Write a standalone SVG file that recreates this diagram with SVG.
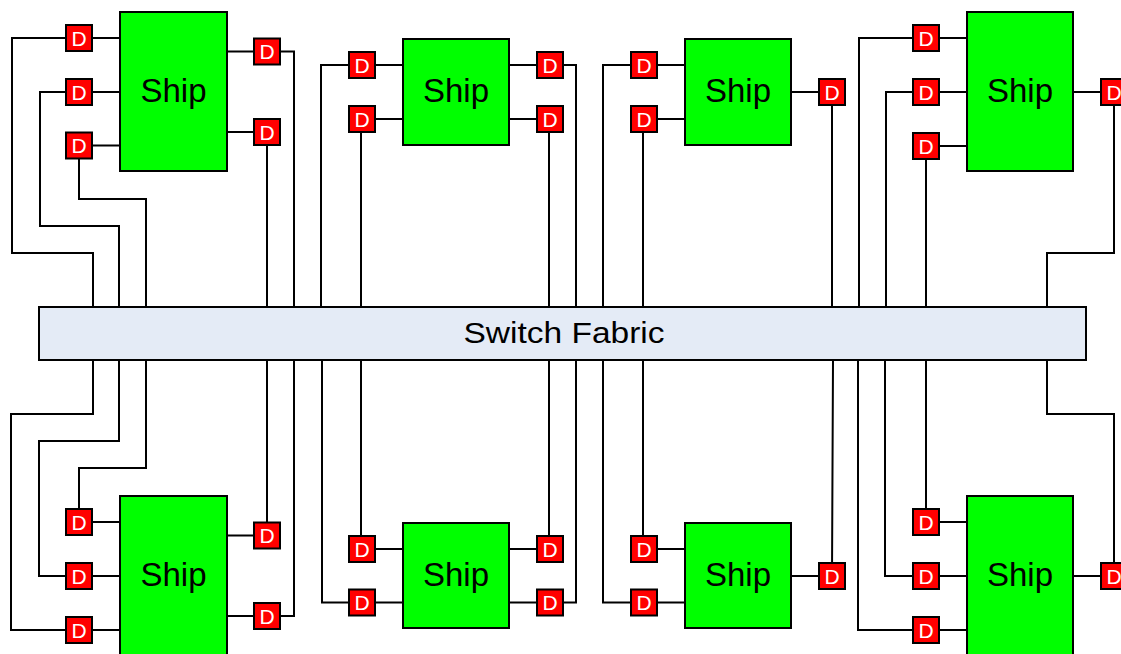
<svg xmlns="http://www.w3.org/2000/svg" width="1121" height="654" viewBox="0 0 1121 654">
<style>
.ship{fill:#00ff00;stroke:#000;stroke-width:2}
.d{fill:#ff0000;stroke:#000;stroke-width:2}
.dt{fill:#fff;font-family:"Liberation Sans",Arial,sans-serif;font-size:21px;text-anchor:middle}
.st{fill:#000;font-family:"Liberation Sans",Arial,sans-serif;font-size:33px;text-anchor:middle}
.fab{fill:#e4ebf6;stroke:#000;stroke-width:2}
.ft{fill:#000;font-family:"Liberation Sans",Arial,sans-serif;font-size:29px;text-anchor:middle}
.w{fill:none;stroke:#000;stroke-width:2}
</style>
<rect width="1121" height="654" fill="#fff"/>
<g id="connectors" class="w">
<path d="M119,38 H12 V253 H93 V306"/>
<path d="M119,92 H40 V226 H119 V306"/>
<path d="M119,145.5 H79 V199 H146 V306"/>
<path d="M228,51.5 H294 V306"/>
<path d="M228,132 H267 V306"/>
<path d="M402,65 H321 V306"/>
<path d="M402,119 H361 V306"/>
<path d="M510,65 H576 V306"/>
<path d="M510,119 H549 V306"/>
<path d="M684,65 H603 V306"/>
<path d="M684,119 H643 V306"/>
<path d="M792,92 H832 V306"/>
<path d="M966,38 H859 V306"/>
<path d="M966,92 H886 V306"/>
<path d="M966,146 H926 V306"/>
<path d="M1074,92 H1114 V253 H1047 V306"/>
<path d="M119,522 H79 V468 H146 V360"/>
<path d="M119,576 H39 V441 H119 V360"/>
<path d="M119,630 H11 V414 H93 V360"/>
<path d="M228,535.5 H267 V360"/>
<path d="M228,616 H294 V360"/>
<path d="M402,549 H361 V360"/>
<path d="M402,602.5 H322 V360"/>
<path d="M510,549 H549 V360"/>
<path d="M510,602.5 H576 V360"/>
<path d="M684,549 H643 V360"/>
<path d="M684,602.5 H603 V360"/>
<path d="M792,576 H832 L833,360"/>
<path d="M966,522 H926 V360"/>
<path d="M966,576 H885 V360"/>
<path d="M966,630 H858 V360"/>
<path d="M1074,576 H1114 V414 H1047 V360"/>
</g>
<g id="fabric"><rect class="fab" x="39" y="307" width="1047" height="53"/><text class="ft" x="564" y="343" textLength="201" lengthAdjust="spacingAndGlyphs">Switch Fabric</text></g>
<g id="ship-t1"><rect class="ship" x="120" y="12" width="107" height="159"/><text class="st" x="173.5" y="102">Ship</text></g>
<g id="ship-t2"><rect class="ship" x="403" y="39" width="106" height="106"/><text class="st" x="456" y="102">Ship</text></g>
<g id="ship-t3"><rect class="ship" x="685" y="39" width="106" height="106"/><text class="st" x="738" y="102">Ship</text></g>
<g id="ship-t4"><rect class="ship" x="967" y="12" width="106" height="159"/><text class="st" x="1020" y="102">Ship</text></g>
<g id="ship-b1"><rect class="ship" x="120" y="496" width="107" height="159"/><text class="st" x="173.5" y="586">Ship</text></g>
<g id="ship-b2"><rect class="ship" x="403" y="523" width="106" height="105"/><text class="st" x="456" y="586">Ship</text></g>
<g id="ship-b3"><rect class="ship" x="685" y="523" width="106" height="105"/><text class="st" x="738" y="586">Ship</text></g>
<g id="ship-b4"><rect class="ship" x="967" y="496" width="106" height="159"/><text class="st" x="1020" y="586">Ship</text></g>
<g id="d-t1-l1"><rect class="d" x="66" y="25" width="26" height="26"/><text class="dt" x="79" y="45.5">D</text></g>
<g id="d-t1-l2"><rect class="d" x="66" y="79" width="26" height="26"/><text class="dt" x="79" y="99.5">D</text></g>
<g id="d-t1-l3"><rect class="d" x="66" y="132.5" width="26" height="26"/><text class="dt" x="79" y="153">D</text></g>
<g id="d-t1-r1"><rect class="d" x="254" y="38.5" width="26" height="26"/><text class="dt" x="267" y="59">D</text></g>
<g id="d-t1-r2"><rect class="d" x="254" y="119" width="26" height="26"/><text class="dt" x="267" y="139.5">D</text></g>
<g id="d-t2-l1"><rect class="d" x="349" y="52" width="26" height="26"/><text class="dt" x="362" y="72.5">D</text></g>
<g id="d-t2-l2"><rect class="d" x="349" y="106" width="26" height="26"/><text class="dt" x="362" y="126.5">D</text></g>
<g id="d-t2-r1"><rect class="d" x="537" y="52" width="26" height="26"/><text class="dt" x="550" y="72.5">D</text></g>
<g id="d-t2-r2"><rect class="d" x="537" y="106" width="26" height="26"/><text class="dt" x="550" y="126.5">D</text></g>
<g id="d-t3-l1"><rect class="d" x="631" y="52" width="26" height="26"/><text class="dt" x="644" y="72.5">D</text></g>
<g id="d-t3-l2"><rect class="d" x="631" y="106" width="26" height="26"/><text class="dt" x="644" y="126.5">D</text></g>
<g id="d-t3-r1"><rect class="d" x="819" y="79" width="26" height="26"/><text class="dt" x="832" y="99.5">D</text></g>
<g id="d-t4-l1"><rect class="d" x="913" y="25" width="26" height="26"/><text class="dt" x="926" y="45.5">D</text></g>
<g id="d-t4-l2"><rect class="d" x="913" y="79" width="26" height="26"/><text class="dt" x="926" y="99.5">D</text></g>
<g id="d-t4-l3"><rect class="d" x="913" y="133" width="26" height="26"/><text class="dt" x="926" y="153.5">D</text></g>
<g id="d-t4-r1"><rect class="d" x="1101" y="79" width="26" height="26"/><text class="dt" x="1114" y="99.5">D</text></g>
<g id="d-b1-l1"><rect class="d" x="66" y="509" width="26" height="26"/><text class="dt" x="79" y="529.5">D</text></g>
<g id="d-b1-l2"><rect class="d" x="66" y="563" width="26" height="26"/><text class="dt" x="79" y="583.5">D</text></g>
<g id="d-b1-l3"><rect class="d" x="66" y="617" width="26" height="26"/><text class="dt" x="79" y="637.5">D</text></g>
<g id="d-b1-r1"><rect class="d" x="254" y="522.5" width="26" height="26"/><text class="dt" x="267" y="543">D</text></g>
<g id="d-b1-r2"><rect class="d" x="254" y="603" width="26" height="26"/><text class="dt" x="267" y="623.5">D</text></g>
<g id="d-b2-l1"><rect class="d" x="349" y="536" width="26" height="26"/><text class="dt" x="362" y="556.5">D</text></g>
<g id="d-b2-l2"><rect class="d" x="349" y="589.5" width="26" height="26"/><text class="dt" x="362" y="610">D</text></g>
<g id="d-b2-r1"><rect class="d" x="537" y="536" width="26" height="26"/><text class="dt" x="550" y="556.5">D</text></g>
<g id="d-b2-r2"><rect class="d" x="537" y="589.5" width="26" height="26"/><text class="dt" x="550" y="610">D</text></g>
<g id="d-b3-l1"><rect class="d" x="631" y="536" width="26" height="26"/><text class="dt" x="644" y="556.5">D</text></g>
<g id="d-b3-l2"><rect class="d" x="631" y="589.5" width="26" height="26"/><text class="dt" x="644" y="610">D</text></g>
<g id="d-b3-r1"><rect class="d" x="819" y="563" width="26" height="26"/><text class="dt" x="832" y="583.5">D</text></g>
<g id="d-b4-l1"><rect class="d" x="913" y="509" width="26" height="26"/><text class="dt" x="926" y="529.5">D</text></g>
<g id="d-b4-l2"><rect class="d" x="913" y="563" width="26" height="26"/><text class="dt" x="926" y="583.5">D</text></g>
<g id="d-b4-l3"><rect class="d" x="913" y="617" width="26" height="26"/><text class="dt" x="926" y="637.5">D</text></g>
<g id="d-b4-r1"><rect class="d" x="1101" y="563" width="26" height="26"/><text class="dt" x="1114" y="583.5">D</text></g>
</svg>
